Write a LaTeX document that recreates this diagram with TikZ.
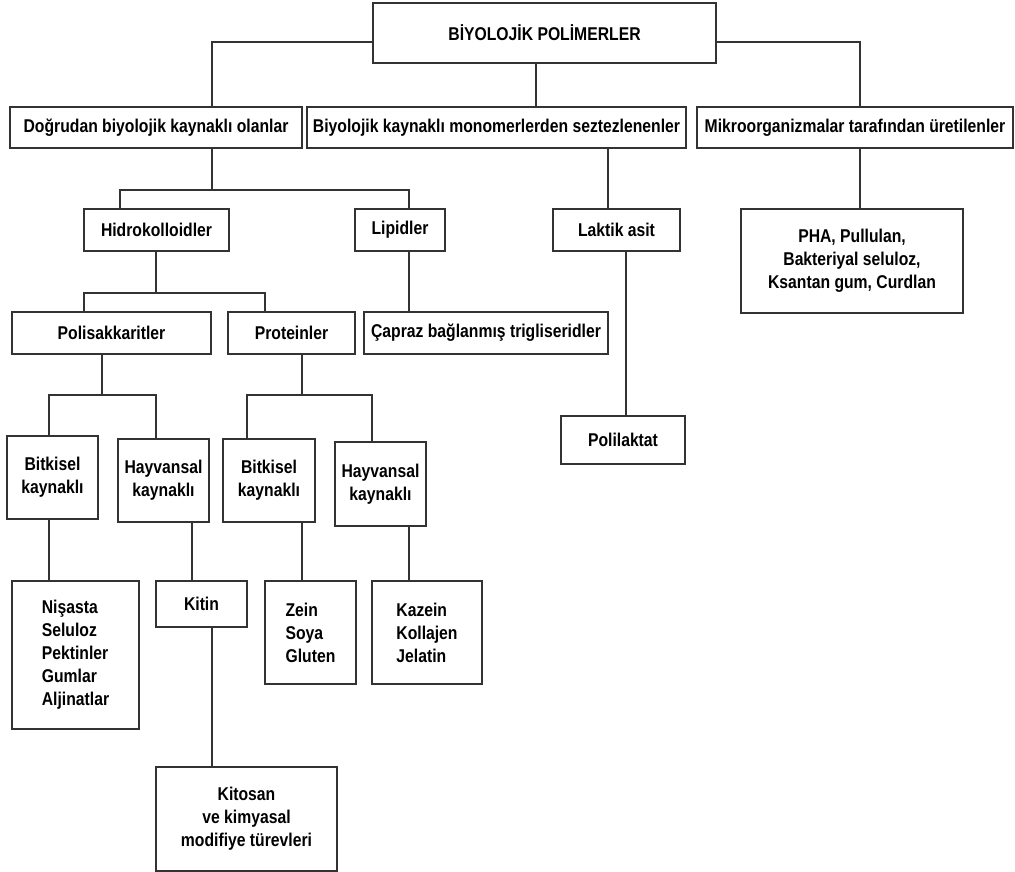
\documentclass[tikz,border=0pt]{standalone}
\usepackage{fontspec}
\setmainfont{Liberation Sans}[FakeStretch=0.85]
\usepackage{tikz}

\begin{document}
\begin{tikzpicture}[x=1pt, y=-1pt,
  kutu/.style={draw=black!80, line width=1.3pt, rectangle, inner sep=3pt, align=center, font=\fontsize{18.5}{23}\selectfont\bfseries},
  hat/.style={draw=black!80, line width=1.3pt}]
\useasboundingbox (0,0) rectangle (1015,872);
% level 1 and 2
\node[kutu, minimum width=343pt, minimum height=60pt] (kok) at (544.5,33) {BİYOLOJİK POLİMERLER};
\node[kutu, minimum width=292pt, minimum height=41pt] (dogrudan) at (156,127.5) {Doğrudan biyolojik kaynaklı olanlar};
\node[kutu, minimum width=379pt, minimum height=41pt] (monomer) at (496.5,127.5) {Biyolojik kaynaklı monomerlerden seztezlenenler};
\node[kutu, minimum width=316pt, minimum height=41pt] (mikro) at (855,127.5) {Mikroorganizmalar tarafından üretilenler};
% level 3
\node[kutu, minimum width=145pt, minimum height=42pt] (hidro) at (156.5,230) {Hidrokolloidler};
\node[kutu, minimum width=90pt, minimum height=42pt] (lipid) at (400,230) {Lipidler};
\node[kutu, minimum width=127pt, minimum height=42pt] (laktik) at (616.5,230) {Laktik asit};
\node[kutu, minimum width=222pt, minimum height=104pt] (pha) at (852,261) {PHA, Pullulan,\\Bakteriyal seluloz,\\Ksantan gum, Curdlan};
% level 4
\node[kutu, minimum width=199pt, minimum height=42pt] (polisak) at (111.5,333) {Polisakkaritler};
\node[kutu, minimum width=127pt, minimum height=42pt] (protein) at (291.5,333) {Proteinler};
\node[kutu, minimum width=244pt, minimum height=42pt] (capraz) at (486,333) {Çapraz bağlanmış trigliseridler};
\node[kutu, minimum width=124pt, minimum height=48pt] (polilaktat) at (623,440) {Polilaktat};
% level 5
\node[kutu, minimum width=91pt, minimum height=83pt] (bitki1) at (52.5,477.5) {Bitkisel\\kaynaklı};
\node[kutu, minimum width=91pt, minimum height=83pt] (hayvan1) at (163.5,480.5) {Hayvansal\\kaynaklı};
\node[kutu, minimum width=92pt, minimum height=83pt] (bitki2) at (269,480.5) {Bitkisel\\kaynaklı};
\node[kutu, minimum width=91pt, minimum height=84pt] (hayvan2) at (380.5,484) {Hayvansal\\kaynaklı};
% level 6
\node[kutu, align=left, minimum width=127pt, minimum height=148pt] (nisasta) at (75.5,655) {Nişasta\\Seluloz\\Pektinler\\Gumlar\\Aljinatlar};
\node[kutu, minimum width=91pt, minimum height=46pt] (kitin) at (201.5,604) {Kitin};
\node[kutu, align=left, minimum width=91pt, minimum height=103pt] (zein) at (310.5,632.5) {Zein\\Soya\\Gluten};
\node[kutu, align=left, minimum width=110pt, minimum height=103pt] (kazein) at (427,632.5) {Kazein\\Kollajen\\Jelatin};
\node[kutu, minimum width=181pt, minimum height=104pt] (kitosan) at (246.5,819) {Kitosan\\ve kimyasal\\modifiye türevleri};

% connectors
\draw[hat] ([yshift=-9pt]kok.west) -| ([xshift=56pt]dogrudan.north);
\draw[hat] ([xshift=-8.5pt]kok.south) -- ([xshift=-8.5pt]kok.south |- monomer.north);
\draw[hat] ([yshift=-9pt]kok.east) -| ([xshift=5pt]mikro.north);

\coordinate (j1) at (212,190);
\draw[hat] (dogrudan.south -| j1) -- (j1);
\draw[hat] ([xshift=-36.5pt]hidro.north) |- (j1) -| ([xshift=9pt]lipid.north);
\draw[hat] ([xshift=-8.5pt]laktik.north) -- ([xshift=-8.5pt]laktik.north |- monomer.south);
\draw[hat] ([xshift=8pt]pha.north) -- ([xshift=8pt]pha.north |- mikro.south);

\coordinate (j2) at (156,293);
\draw[hat] (hidro.south -| j2) -- (j2);
\draw[hat] ([xshift=-27.5pt]polisak.north) |- (j2) -| ([xshift=-26.5pt]protein.north);
\draw[hat] ([xshift=9pt]lipid.south) -- ([xshift=9pt]lipid.south |- capraz.north);
\draw[hat] ([xshift=9.5pt]laktik.south) -- ([xshift=9.5pt]laktik.south |- polilaktat.north);

\coordinate (j3) at (102,395);
\draw[hat] (polisak.south -| j3) -- (j3);
\draw[hat] ([xshift=-3.5pt]bitki1.north) |- (j3) -| ([xshift=-7.5pt]hayvan1.north);
\coordinate (j4) at (302,395);
\draw[hat] (protein.south -| j4) -- (j4);
\draw[hat] ([xshift=-22pt]bitki2.north) |- (j4) -| ([xshift=-8.5pt]hayvan2.north);

\draw[hat] ([xshift=-3.5pt]bitki1.south) -- ([xshift=-3.5pt]bitki1.south |- nisasta.north);
\draw[hat] ([xshift=-9.5pt]kitin.north) -- ([xshift=-9.5pt]kitin.north |- hayvan1.south);
\draw[hat] ([xshift=-8.5pt]zein.north) -- ([xshift=-8.5pt]zein.north |- bitki2.south);
\draw[hat] ([xshift=-18pt]kazein.north) -- ([xshift=-18pt]kazein.north |- hayvan2.south);
\draw[hat] ([xshift=-34.5pt]kitosan.north) -- ([xshift=-34.5pt]kitosan.north |- kitin.south);
\end{tikzpicture}
\end{document}
